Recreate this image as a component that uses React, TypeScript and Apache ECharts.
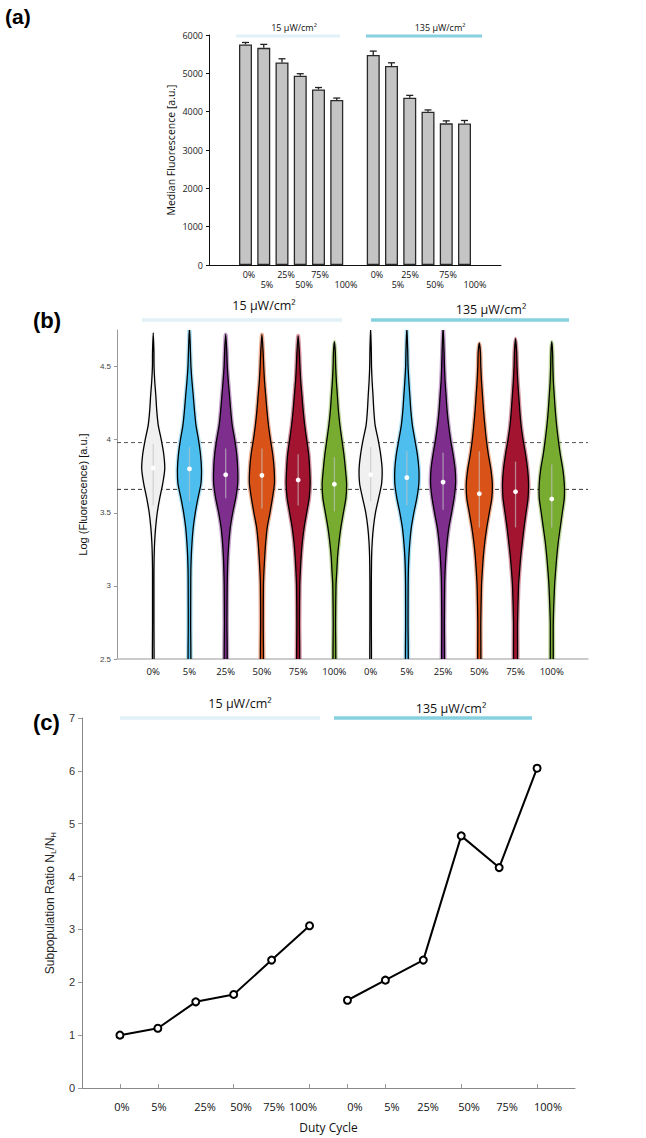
import React, { useEffect, useRef } from "react";
import * as echarts from "echarts";

// ---------- shared ----------
const DUTY = ["0%", "5%", "25%", "50%", "75%", "100%"];
const GROUP_TITLES = ["15 µW/cm²", "135 µW/cm²"];

// ---------- (a) median fluorescence ----------
const MEDIAN_15 = [5755, 5665, 5285, 4940, 4580, 4305];
const MEDIAN_135 = [5480, 5190, 4365, 4000, 3695, 3690];
const ERR_15 = [50, 90, 95, 50, 50, 50];
const ERR_135 = [100, 85, 60, 45, 65, 80];

// ---------- (b) violins ----------
const VIOLIN_GRID = [2.4, 2.75, 3.0, 3.1, 3.2, 3.3, 3.4, 3.5, 3.6, 3.7, 3.8, 3.9, 4.0, 4.1, 4.2, 4.3, 4.4, 4.5, 4.6];
const VIOLIN_WIDTH_15 = [
  [0.7, 0.7, 0.7, 0.7, 0.9, 1.4, 2.4, 4, 6.5, 9.5, 11.5, 10.5, 8, 5, 3.5, 2.6, 1.5, 0.8, 0.7],
  [1.2, 1.2, 1.3, 1.4, 1.8, 2.6, 3.8, 5.8, 8.5, 11.5, 12, 11, 9, 6.5, 5, 3.8, 2.5, 1.5, 1.0],
  [1.3, 1.3, 1.5, 1.8, 2.3, 3.2, 4.6, 7, 10, 12, 12, 11, 9, 6.5, 5, 3.8, 2.6, 1.6, 1.1],
  [1.3, 1.3, 1.5, 2, 2.8, 3.8, 5.3, 8, 10.5, 12.5, 12.2, 10.8, 8.5, 6.5, 5, 3.8, 2.6, 1.8, 1.2],
  [1.3, 1.3, 1.6, 2.2, 3, 4.2, 6, 8.5, 11, 12, 11.5, 10.5, 8.5, 6.5, 5, 3.8, 2.6, 1.8, 1.2],
  [1.2, 1.2, 1.6, 2.4, 3.2, 4.6, 6.5, 9, 11.5, 12.2, 11, 9.5, 7.5, 5.5, 4, 3, 2, 1.3, 0.9],
];
const VIOLIN_WIDTH_135 = [
  [0.7, 0.7, 0.7, 0.8, 1, 1.6, 2.8, 4.8, 8, 11, 11.5, 10, 7.5, 4.5, 3.2, 2.4, 1.5, 0.9, 0.7],
  [1.2, 1.2, 1.3, 1.5, 2, 3, 4.5, 7, 10, 12, 12, 10.5, 8, 5.5, 4, 3, 2, 1.2, 0.9],
  [1.2, 1.3, 1.6, 2, 2.8, 4, 5.8, 8.5, 11, 12.5, 12, 10, 7.5, 5.5, 4, 3, 2, 1.4, 1.0],
  [1.3, 1.5, 2.2, 3, 4, 5.5, 7.5, 10, 12.5, 13, 11.5, 9, 7, 5.5, 4.2, 3.2, 2.2, 1.5, 1.1],
  [1.6, 2, 3, 4, 5.2, 6.8, 8.5, 10.5, 12.5, 13, 12, 10, 7.5, 5.5, 4.2, 3.2, 2.2, 1.5, 1.1],
  [1.2, 1.5, 2.8, 3.8, 5, 6.5, 8.5, 10.5, 12.5, 12.5, 11, 8.5, 6.5, 4.8, 3.5, 2.5, 1.6, 1.1, 0.8],
];
const VIOLIN_TOP_15 = [4.73, 4.77, 4.72, 4.72, 4.71, 4.67];
const VIOLIN_TOP_135 = [4.77, 4.77, 4.77, 4.66, 4.69, 4.67];
const VIOLIN_MEDIAN_15 = [3.806, 3.8, 3.76, 3.756, 3.724, 3.695];
const VIOLIN_MEDIAN_135 = [3.76, 3.74, 3.71, 3.63, 3.644, 3.594];
const VIOLIN_Q_15 = [[3.55, 3.97], [3.58, 3.95], [3.6, 3.94], [3.53, 3.94], [3.55, 3.9], [3.51, 3.88]];
const VIOLIN_Q_135 = [[3.58, 3.95], [3.55, 3.92], [3.52, 3.91], [3.4, 3.92], [3.4, 3.85], [3.4, 3.83]];
const THRESHOLDS = [3.98, 3.66];
const VIOLIN_COLORS = ["#f0f0f0", "#4dbeee", "#7e2f8e", "#d95319", "#a2142f", "#77ac30"];

// ---------- (c) subpopulation ratio ----------
const RATIO_15 = [1.0, 1.13, 1.63, 1.77, 2.42, 3.07];
const RATIO_135 = [1.66, 2.04, 2.42, 4.77, 4.17, 6.05];
const C_TICK_POS = [0, 1, 3, 5, 6, 7, 9, 11];

// layout constants
const VIOLIN_PX_PER_UNIT = 36.2;
const A_LABEL_ROW1 = [249, 286, 320, 377, 410, 448];
const A_LABEL_ROW2 = [267, 304, 346, 398, 435, 475];
const C_LABEL_X = [122, 159, 205, 241, 274, 303, 355, 392, 428, 469, 507, 548];

const SANS = "Liberation Sans, Arial, sans-serif";
const MYRIAD = "Open Sans, sans-serif";

function txt(x: number, y: number, text: string, size: number, extra: any = {}) {
  return {
    type: "text",
    x,
    y,
    silent: true,
    style: {
      text,
      fontSize: size,
      fontFamily: extra.fontFamily || MYRIAD,
      fontWeight: extra.fontWeight || "normal",
      fill: extra.fill || "#111",
      align: extra.align || "center",
      textAlign: extra.align || "center",
      verticalAlign: "middle",
      textVerticalAlign: "middle",
    },
  };
}

function hline(x1: number, x2: number, y: number, color: string, w = 3) {
  return {
    type: "line",
    silent: true,
    shape: { x1, y1: y, x2, y2: y },
    style: { stroke: color, lineWidth: w },
  };
}

export default function App() {
  const ref = useRef<HTMLDivElement>(null);

  useEffect(() => {
    document.body.style.margin = "0";
    if (!ref.current) return;
    const chart = echarts.init(ref.current, undefined, { renderer: "svg" });

    const barData: any[] = [];
    const errData: any[] = [];
    MEDIAN_15.forEach((v, j) => {
      barData.push([j, v]);
      errData.push([j, v, ERR_15[j]]);
    });
    MEDIAN_135.forEach((v, j) => {
      barData.push([7 + j, v]);
      errData.push([7 + j, v, ERR_135[j]]);
    });

    const violinData: any[] = [];
    for (let k = 0; k < 12; k++) violinData.push([k, k]);

    const S = 1 / VIOLIN_PX_PER_UNIT;

    const violinItem = (params: any, api: any) => {
      const x = api.value(0);
      const k = api.value(1);
      const g = k < 6 ? 0 : 1;
      const j = k % 6;
      const widths = g === 0 ? VIOLIN_WIDTH_15[j] : VIOLIN_WIDTH_135[j];
      const top = (g === 0 ? VIOLIN_TOP_15 : VIOLIN_TOP_135)[j];
      const med = (g === 0 ? VIOLIN_MEDIAN_15 : VIOLIN_MEDIAN_135)[j];
      const q = (g === 0 ? VIOLIN_Q_15 : VIOLIN_Q_135)[j];
      const color = VIOLIN_COLORS[j];
      const right: number[][] = [];
      const left: number[][] = [];
      for (let n = 0; n < VIOLIN_GRID.length; n++) {
        const y = VIOLIN_GRID[n];
        if (y >= top) break;
        const w = widths[n] * S;
        right.push(api.coord([x + w, y]));
        left.push(api.coord([x - w, y]));
      }
      const pts = [...right, api.coord([x, top]), ...left.reverse()];
      const q1 = api.coord([x, q[0]]);
      const q3 = api.coord([x, q[1]]);
      const m = api.coord([x, med]);
      return {
        type: "group",
        children: [
          {
            type: "polygon",
            shape: { points: pts, smooth: 0.25 },
            style: { fill: color, stroke: color, lineWidth: 4, opacity: 0.45 },
          },
          {
            type: "polygon",
            shape: { points: pts, smooth: 0.25 },
            style: { fill: color, stroke: "#000", lineWidth: 1.3 },
          },
          {
            type: "line",
            shape: { x1: q1[0], y1: q1[1], x2: q3[0], y2: q3[1] },
            style: { stroke: "rgba(195,195,195,0.65)", lineWidth: 1.3 },
          },
          {
            type: "circle",
            shape: { cx: m[0], cy: m[1], r: 2.4 },
            style: { fill: "#fff" },
          },
        ],
      };
    };

    const errItem = (params: any, api: any) => {
      const x = api.value(0);
      const v = api.value(1);
      const e = api.value(2);
      const p0 = api.coord([x, v]);
      const p1 = api.coord([x, v + e]);
      return {
        type: "group",
        children: [
          {
            type: "line",
            shape: { x1: p0[0], y1: p0[1], x2: p1[0], y2: p1[1] },
            style: { stroke: "#222", lineWidth: 1.3 },
          },
          {
            type: "line",
            shape: { x1: p1[0] - 3.5, y1: p1[1], x2: p1[0] + 3.5, y2: p1[1] },
            style: { stroke: "#222", lineWidth: 1.3 },
          },
        ],
      };
    };

    const graphics: any[] = [];
    // panel letters
    graphics.push(txt(5, 16, "(a)", 21, { fontFamily: SANS, fontWeight: "bold", align: "left", fill: "#000" }));
    graphics.push(txt(33, 320, "(b)", 22, { fontFamily: SANS, fontWeight: "bold", align: "left", fill: "#000" }));
    graphics.push(txt(33, 722, "(c)", 22, { fontFamily: SANS, fontWeight: "bold", align: "left", fill: "#000" }));
    // group titles (a)
    graphics.push(txt(294, 27, GROUP_TITLES[0], 9));
    graphics.push(hline(236, 340, 36, "#e2f0f7"));
    graphics.push(txt(440, 27, GROUP_TITLES[1], 9));
    graphics.push(hline(366, 482, 36, "#86d0e0"));
    // group titles (b)
    graphics.push(txt(264, 305, GROUP_TITLES[0], 12.5));
    graphics.push(hline(142, 342, 320, "#e2f0f7", 3.5));
    graphics.push(txt(491, 309, GROUP_TITLES[1], 12.5));
    graphics.push(hline(371, 569, 320, "#86d0e0", 3.5));
    // group titles (c)
    graphics.push(txt(240, 703, GROUP_TITLES[0], 12.5));
    graphics.push(hline(120, 320, 718, "#e2f0f7", 3.5));
    graphics.push(txt(451, 708, GROUP_TITLES[1], 12.5));
    graphics.push(hline(334, 532, 718, "#86d0e0", 3.5));
    // (a) duty labels, two staggered rows
    for (let i = 0; i < 12; i++) {
      const label = DUTY[i % 6];
      const row = (i % 6) % 2;
      const gi = Math.floor(i / 6);
      const idx = gi * 3 + Math.floor((i % 6) / 2);
      if (row === 0) graphics.push(txt(A_LABEL_ROW1[idx], 274, label, 9));
      else graphics.push(txt(A_LABEL_ROW2[idx], 284, label, 9));
    }
    // (c) duty labels
    for (let i = 0; i < 12; i++) {
      graphics.push(txt(C_LABEL_X[i], 1106, DUTY[i % 6], 11));
    }

    const option: any = {
      animation: false,
      backgroundColor: "#fff",
      grid: [
        { left: 209, top: 35, width: 292, height: 230 },
        { left: 117, top: 330, width: 471, height: 329 },
        { left: 82, top: 718, width: 493, height: 370 },
      ],
      xAxis: [
        {
          gridIndex: 0,
          type: "value",
          min: -2,
          max: 14,
          axisLine: { show: true, onZero: false, lineStyle: { color: "#111", width: 1 } },
          axisTick: { show: false },
          axisLabel: { show: false },
          splitLine: { show: false },
        },
        {
          gridIndex: 1,
          type: "value",
          min: -1,
          max: 12,
          interval: 1,
          axisLine: { show: true, onZero: false, lineStyle: { color: "#bbb", width: 1.5 } },
          axisTick: { show: false },
          axisLabel: {
            margin: 7,
            fontSize: 9.5,
            color: "#111",
            fontFamily: MYRIAD,
            formatter: (v: number) => (v >= 0 && v <= 11 ? DUTY[Math.round(v) % 6] : ""),
          },
          splitLine: { show: false },
        },
        {
          gridIndex: 2,
          type: "value",
          min: -1,
          max: 12,
          axisLine: { show: true, onZero: false, lineStyle: { color: "#888", width: 1 } },
          axisTick: { show: true, inside: true, length: 4, customValues: C_TICK_POS, lineStyle: { color: "#999" } },
          axisLabel: { show: false },
          splitLine: { show: false },
          name: "Duty Cycle",
          nameLocation: "middle",
          nameGap: 33,
          nameTextStyle: { fontSize: 12, color: "#111", fontFamily: MYRIAD },
        },
      ],
      yAxis: [
        {
          gridIndex: 0,
          type: "value",
          min: 0,
          max: 6000,
          interval: 1000,
          axisLine: { show: true, onZero: false, lineStyle: { color: "#111", width: 1 } },
          axisTick: { show: true, length: 3, lineStyle: { color: "#111" } },
          axisLabel: {
            margin: 6,
            fontSize: 9,
            color: "#222",
            fontFamily: MYRIAD,
            formatter: (v: number) => String(v),
          },
          splitLine: { show: false },
          name: "Median Fluorescence [a.u.]",
          nameLocation: "middle",
          nameRotate: 90,
          nameGap: 33,
          nameTextStyle: { fontSize: 10.5, color: "#111", fontFamily: MYRIAD },
        },
        {
          gridIndex: 1,
          type: "value",
          min: 2.5,
          max: 4.75,
          axisLine: { show: true, onZero: false, lineStyle: { color: "#999", width: 1 } },
          axisTick: { show: true, length: 3, customValues: [2.5, 3, 3.5, 4, 4.5], lineStyle: { color: "#999" } },
          axisLabel: {
            margin: 6,
            fontSize: 8,
            color: "#444",
            fontFamily: SANS,
            customValues: [2.5, 3, 3.5, 4, 4.5],
            formatter: (v: number) => String(v),
          },
          splitLine: { show: false },
          name: "Log (Fluorescence) [a.u.]",
          nameLocation: "middle",
          nameRotate: 90,
          nameGap: 24,
          nameTextStyle: { fontSize: 11, color: "#111", fontFamily: SANS },
        },
        {
          gridIndex: 2,
          type: "value",
          min: 0,
          max: 7,
          interval: 1,
          axisLine: { show: true, onZero: false, lineStyle: { color: "#888", width: 1 } },
          axisTick: { show: true, length: 4, lineStyle: { color: "#999" } },
          axisLabel: { margin: 7, fontSize: 11, color: "#333", fontFamily: SANS },
          splitLine: { show: false },
          name: "{t|Subpopulation Ratio N}{s|L}{t|/N}{s|H}",
          nameLocation: "middle",
          nameRotate: 90,
          nameGap: 20,
          nameTextStyle: {
            rich: {
              t: { fontSize: 12, color: "#222", fontFamily: SANS, lineHeight: 16 },
              s: { fontSize: 8, color: "#222", fontFamily: SANS, lineHeight: 8, verticalAlign: "bottom" },
            },
          },
        },
      ],
      series: [
        {
          type: "bar",
          xAxisIndex: 0,
          yAxisIndex: 0,
          data: barData,
          barWidth: 13,
          itemStyle: { color: "#c4c4c4", borderColor: "#2a2a2a", borderWidth: 1.3 },
          z: 2,
        },
        {
          type: "custom",
          xAxisIndex: 0,
          yAxisIndex: 0,
          data: errData,
          renderItem: errItem,
          z: 3,
        },
        {
          type: "line",
          xAxisIndex: 1,
          yAxisIndex: 1,
          data: [[-1, THRESHOLDS[0]], [12, THRESHOLDS[0]]],
          symbol: "none",
          lineStyle: { color: "#555", width: 1, type: [4, 3] },
          z: 1,
        },
        {
          type: "line",
          xAxisIndex: 1,
          yAxisIndex: 1,
          data: [[-1, THRESHOLDS[1]], [12, THRESHOLDS[1]]],
          symbol: "none",
          lineStyle: { color: "#333", width: 1, type: [4, 3] },
          z: 1,
        },
        {
          type: "custom",
          xAxisIndex: 1,
          yAxisIndex: 1,
          data: violinData,
          renderItem: violinItem,
          clip: true,
          z: 2,
        },
        {
          type: "line",
          xAxisIndex: 2,
          yAxisIndex: 2,
          data: RATIO_15.map((v, j) => [j, v]),
          symbol: "emptyCircle",
          symbolSize: 7,
          lineStyle: { color: "#000", width: 2 },
          itemStyle: { color: "#000", borderWidth: 2 },
        },
        {
          type: "line",
          xAxisIndex: 2,
          yAxisIndex: 2,
          data: RATIO_135.map((v, j) => [6 + j, v]),
          symbol: "emptyCircle",
          symbolSize: 7,
          lineStyle: { color: "#000", width: 2 },
          itemStyle: { color: "#000", borderWidth: 2 },
        },
      ],
      graphic: graphics,
    };

    chart.setOption(option);
    return () => chart.dispose();
  }, []);

  return <div ref={ref} style={{ width: 646, height: 1138 }} />;
}
